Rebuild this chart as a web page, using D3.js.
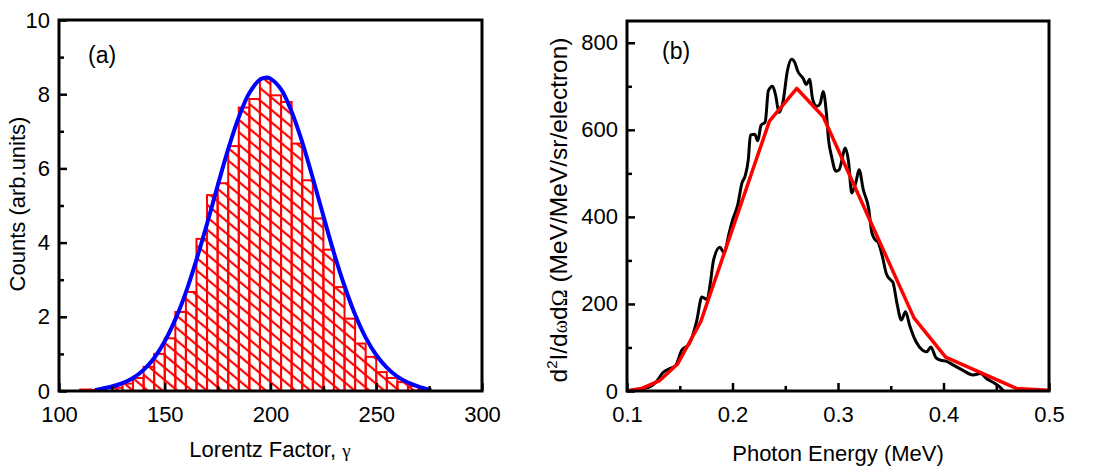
<!DOCTYPE html>
<html>
<head>
<meta charset="utf-8">
<script src="https://cdn.jsdelivr.net/npm/d3@7"></script>
<style>
  body { margin: 0; background: #fff; }
  text { font-family: "Liberation Sans", Arial, sans-serif; }
</style>
</head>
<body>
<svg id="chart" width="1102" height="473"></svg>
<script>
// Panel (a): histogram of Lorentz factor, bins 5 wide
const binLeft = [110, 115, 120, 125, 130, 135, 140, 145, 150, 155, 160, 165, 170, 175, 180, 185, 190,
  195, 200, 205, 210, 215, 220, 225, 230, 235, 240, 245, 250, 255, 260, 265, 270];
const binCount = [0.04, 0.03, 0.08, 0.09, 0.20, 0.35, 0.65, 1.00, 1.42, 2.13, 2.67, 4.10, 5.28, 5.60, 6.60, 7.64, 7.87,
  8.42, 7.97, 7.79, 6.67, 5.68, 4.65, 3.81, 2.80, 1.95, 1.28, 0.92, 0.51, 0.35, 0.24, 0.13, 0.04];
const binWidth = 5;

// Gaussian fit (blue)
const fitGamma = [117, 125, 130, 135, 140, 145, 150, 155, 160, 165, 170, 175, 180, 185, 190, 195, 198,
  200, 205, 210, 215, 220, 225, 230, 235, 240, 245, 250, 255, 260, 265, 270, 276];
const fitCount = [0.02, 0.12, 0.21, 0.35, 0.57, 0.89, 1.34, 1.93, 2.66, 3.54, 4.51, 5.53, 6.52, 7.38, 8.03, 8.39, 8.45,
  8.42, 8.13, 7.53, 6.71, 5.74, 4.72, 3.72, 2.83, 2.06, 1.44, 0.97, 0.63, 0.39, 0.23, 0.12, 0.02];

// Panel (b): photon spectrum (black) and fit (red)
const spectrum = [[0.100, 0], [0.108, 4], [0.116, 6], [0.122, 10], [0.128, 22], [0.134, 42], [0.141, 52], [0.146, 58],
  [0.152, 94], [0.159, 108], [0.166, 160], [0.171, 216], [0.176, 210], [0.179, 248], [0.182, 300], [0.188, 330],
  [0.192, 318], [0.197, 365], [0.200, 392], [0.205, 428], [0.209, 478], [0.212, 494], [0.215, 532], [0.217, 588],
  [0.221, 590], [0.224, 575], [0.227, 610], [0.231, 618], [0.234, 690], [0.238, 700], [0.241, 678], [0.244, 640],
  [0.248, 666], [0.252, 735], [0.256, 762], [0.259, 755], [0.262, 734], [0.267, 718], [0.270, 704], [0.273, 716],
  [0.276, 670], [0.280, 654], [0.283, 660], [0.286, 688], [0.289, 638], [0.291, 578], [0.294, 538], [0.298, 505],
  [0.301, 508], [0.307, 558], [0.310, 527], [0.313, 455], [0.317, 480], [0.320, 508], [0.324, 462], [0.329, 420],
  [0.332, 365], [0.335, 348], [0.338, 342], [0.342, 310], [0.346, 268], [0.350, 255], [0.352, 250], [0.356, 200],
  [0.360, 163], [0.364, 182], [0.368, 150], [0.374, 113], [0.380, 94], [0.384, 90], [0.388, 101], [0.393, 76],
  [0.397, 71], [0.403, 68], [0.409, 60], [0.418, 48], [0.428, 37], [0.435, 40], [0.441, 28], [0.447, 20],
  [0.453, 10], [0.457, 0]];
const fitEnergy = [0.100, 0.113, 0.131, 0.148, 0.170, 0.235, 0.261, 0.286, 0.372, 0.402, 0.469, 0.499];
const fitSpectrum = [0, 5, 24, 62, 160, 620, 695, 630, 168, 78, 6, 2];

const xTicksA = [100, 150, 200, 250, 300], xMinorA = [125, 175, 225, 275];
const yTicksA = [0, 2, 4, 6, 8, 10], yMinorA = [1, 3, 5, 7, 9];
const xTicksB = [0.1, 0.2, 0.3, 0.4, 0.5], xMinorB = [0.15, 0.25, 0.35, 0.45];
const yTicksB = [0, 200, 400, 600, 800], yMinorB = [100, 300, 500, 700];

const svg = d3.select('#chart');

// Hatch pattern for the histogram
const defs = svg.append('defs');
const pat = defs.append('pattern')
  .attr('id', 'hatch')
  .attr('patternUnits', 'userSpaceOnUse')
  .attr('width', 10).attr('height', 9.5)
  .attr('patternTransform', 'rotate(40)');
pat.append('line')
  .attr('x1', -1).attr('x2', 11).attr('y1', 4.75).attr('y2', 4.75)
  .attr('stroke', '#ff0000').attr('stroke-width', 2.2);

// Inward ticks, labels, frame
function drawAxes(x, y, xt, xm, yt, ym, xfmt) {
  const [x0, x1] = x.range();
  const [y0, y1] = y.range();
  const gx = svg.append('g').attr('transform', `translate(0,${y0})`)
    .call(d3.axisBottom(x).tickValues(xt).tickSize(-8).tickPadding(15).tickFormat(xfmt));
  svg.append('g').attr('transform', `translate(0,${y0})`)
    .call(d3.axisBottom(x).tickValues(xm).tickSize(-5).tickFormat(''));
  const gy = svg.append('g').attr('transform', `translate(${x0},0)`)
    .call(d3.axisLeft(y).tickValues(yt).tickSize(-8).tickPadding(9));
  svg.append('g').attr('transform', `translate(${x0},0)`)
    .call(d3.axisLeft(y).tickValues(ym).tickSize(-5).tickFormat(''));
  svg.selectAll('.domain').remove();
  svg.selectAll('.tick line').attr('stroke', '#000').attr('stroke-width', 2.5);
  [gx, gy].forEach(g => g.selectAll('text')
    .attr('font-family', '"Liberation Sans", Arial, sans-serif')
    .attr('font-size', 22).attr('fill', '#000'));
  svg.append('rect')
    .attr('x', x0).attr('y', y1)
    .attr('width', x1 - x0).attr('height', y0 - y1)
    .attr('fill', 'none').attr('stroke', '#000').attr('stroke-width', 3);
}

// ---- Panel (a)
const xA = d3.scaleLinear().domain([100, 300]).range([59, 482]);
const yA = d3.scaleLinear().domain([0, 10]).range([391, 20]);

svg.append('g').selectAll('rect.bin')
  .data(binLeft)
  .join('rect')
  .attr('class', 'bin')
  .attr('x', d => xA(d))
  .attr('y', (d, i) => yA(binCount[i]))
  .attr('width', xA(binWidth) - xA(0))
  .attr('height', (d, i) => yA(0) - yA(binCount[i]))
  .attr('fill', 'url(#hatch)')
  .attr('stroke', '#ff0000')
  .attr('stroke-width', 2);

svg.append('path')
  .datum(fitGamma.map((g, i) => [g, fitCount[i]]))
  .attr('fill', 'none')
  .attr('stroke', '#0000ff')
  .attr('stroke-width', 4)
  .attr('d', d3.line().x(d => xA(d[0])).y(d => yA(d[1])).curve(d3.curveCatmullRom));

drawAxes(xA, yA, xTicksA, xMinorA, yTicksA, yMinorA, d3.format('d'));

svg.append('text').attr('x', 88).attr('y', 63).attr('font-size', 23).text('(a)');

svg.append('text')
  .attr('transform', 'translate(25,204) rotate(-90)')
  .attr('text-anchor', 'middle').attr('font-size', 22)
  .text('Counts (arb.units)');

const tA = svg.append('text')
  .attr('x', 270).attr('y', 457)
  .attr('text-anchor', 'middle').attr('font-size', 22);
tA.append('tspan').text('Lorentz Factor, ');
tA.append('tspan').attr('font-family', '"Liberation Serif", serif').attr('font-size', 19).text('γ');

// ---- Panel (b)
const xB = d3.scaleLinear().domain([0.1, 0.5]).range([627, 1049]);
const yB = d3.scaleLinear().domain([0, 850]).range([391, 21]);

svg.append('path')
  .datum(spectrum)
  .attr('fill', 'none')
  .attr('stroke', '#000')
  .attr('stroke-width', 3)
  .attr('stroke-linejoin', 'round')
  .attr('d', d3.line().x(d => xB(d[0])).y(d => yB(d[1])).curve(d3.curveMonotoneX));

svg.append('path')
  .datum(fitEnergy.map((e, i) => [e, fitSpectrum[i]]))
  .attr('fill', 'none')
  .attr('stroke', '#ff0000')
  .attr('stroke-width', 3.5)
  .attr('stroke-linejoin', 'round')
  .attr('d', d3.line().x(d => xB(d[0])).y(d => yB(d[1])));

drawAxes(xB, yB, xTicksB, xMinorB, yTicksB, yMinorB, d3.format('.1f'));

svg.append('text').attr('x', 662).attr('y', 59).attr('font-size', 23).text('(b)');

const yLabB = svg.append('text')
  .attr('transform', 'translate(567,210) rotate(-90)')
  .attr('text-anchor', 'middle').attr('font-size', 24.5);
yLabB.append('tspan').text('d');
yLabB.append('tspan').attr('font-size', 15).attr('dy', -10).text('2');
yLabB.append('tspan').attr('dy', 10).text('I/d');
yLabB.append('tspan').attr('font-family', '"Liberation Serif", serif').attr('font-size', 20).text('ω');
yLabB.append('tspan').text('d');
yLabB.append('tspan').attr('font-family', '"Liberation Serif", serif').attr('font-size', 23).text('Ω');
yLabB.append('tspan').text(' (MeV/MeV/sr/electron)');

svg.append('text')
  .attr('x', 838).attr('y', 461)
  .attr('text-anchor', 'middle').attr('font-size', 22)
  .text('Photon Energy (MeV)');
</script>
</body>
</html>
